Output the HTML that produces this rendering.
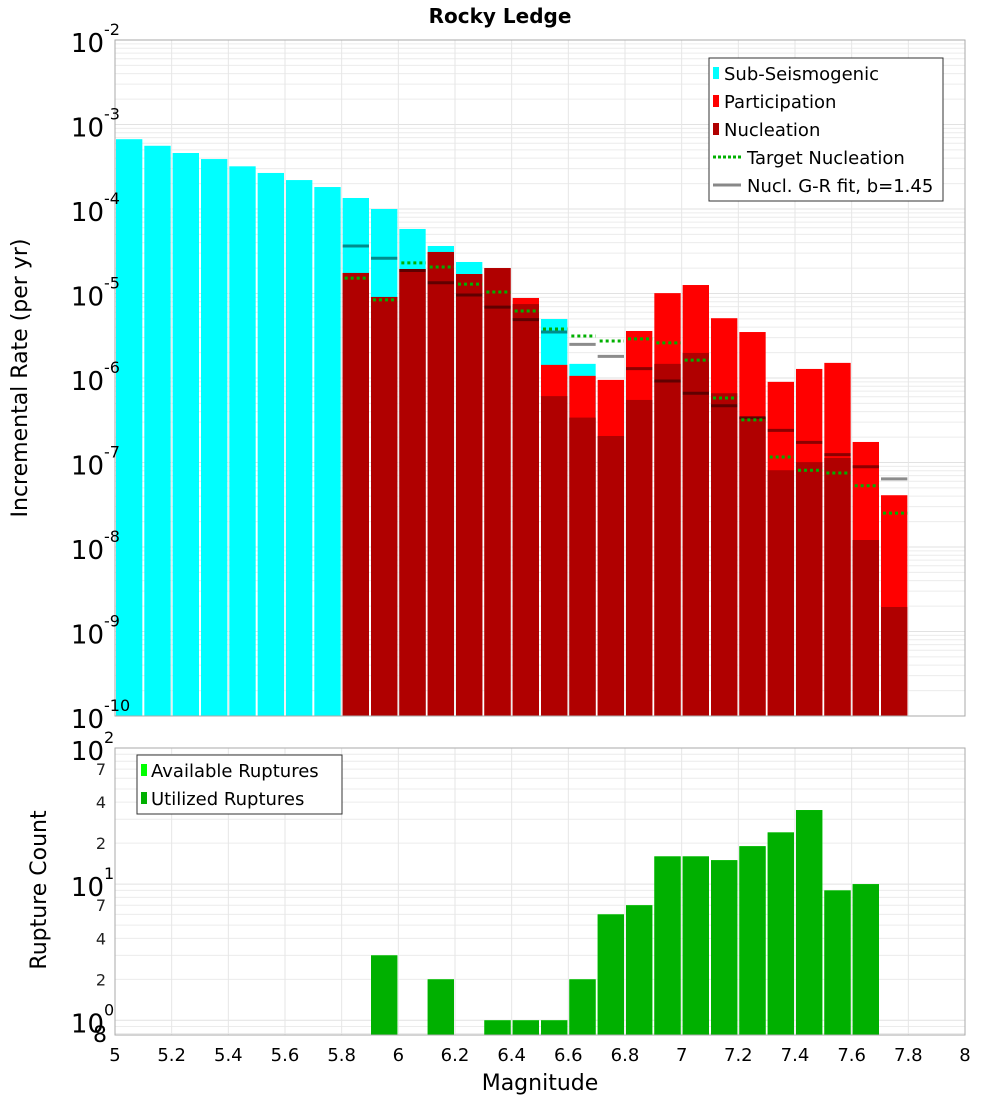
<!DOCTYPE html>
<html><head><meta charset="utf-8"><style>
body{margin:0;background:#fff;font-family:"Liberation Sans","DejaVu Sans",sans-serif}
svg text{font-family:"DejaVu Sans","Liberation Sans",sans-serif}
</style></head><body>
<svg id="c" width="1000" height="1100" xmlns="http://www.w3.org/2000/svg"></svg>
<script>
const mags = [5.05,5.15,5.25,5.35,5.45,5.55,5.65,5.75,5.85,5.95,6.05,6.15,6.25,6.35,6.45,6.55,6.65,6.75,6.85,6.95,7.05,7.15,7.25,7.35,7.45,7.55,7.65,7.75];
const subSeis = [6.7e-4,5.6e-4,4.6e-4,3.9e-4,3.2e-4,2.67e-4,2.2e-4,1.82e-4,1.35e-4,1.0e-4,5.8e-5,3.65e-5,2.36e-5,0,0,4.99e-6,1.47e-6,0,0,0,0,0,0,0,0,0,0,0];
const partic = [0,0,0,0,0,0,0,0,1.75e-5,9.1e-6,1.95e-5,3.1e-5,1.7e-5,2.0e-5,8.85e-6,1.43e-6,1.06e-6,9.5e-7,3.6e-6,1.01e-5,1.26e-5,5.1e-6,3.5e-6,9.0e-7,1.28e-6,1.51e-6,1.75e-7,4.1e-8];
const nucl = [0,0,0,0,0,0,0,0,1.75e-5,9.1e-6,1.95e-5,3.1e-5,1.7e-5,2.0e-5,7.5e-6,6.1e-7,3.4e-7,2.06e-7,5.5e-7,1.47e-6,1.98e-6,6.6e-7,3.45e-7,8.1e-8,1.01e-7,1.13e-7,1.21e-8,1.95e-9];
const targetNucl = [null,null,null,null,null,null,null,null,1.52e-5,8.4e-6,2.3e-5,2.06e-5,1.29e-5,1.04e-5,6.2e-6,3.8e-6,3.14e-6,2.74e-6,2.9e-6,2.6e-6,1.63e-6,5.8e-7,3.2e-7,1.16e-7,8.1e-8,7.5e-8,5.3e-8,2.52e-8];
const grFit = [null,null,null,null,null,null,null,null,3.65e-5,2.61e-5,1.87e-5,1.34e-5,9.6e-6,6.9e-6,4.9e-6,3.5e-6,2.5e-6,1.8e-6,1.29e-6,9.2e-7,6.6e-7,4.7e-7,3.4e-7,2.4e-7,1.73e-7,1.24e-7,8.9e-8,6.4e-8];
const availRup = [0,0,0,0,0,0,0,0,0,3,0,2,0,1,1,1,2,6,7,16,16,15,19,24,35,9,10,0];
const usedRup = [0,0,0,0,0,0,0,0,0,3,0,2,0,1,1,1,2,6,7,16,16,15,19,24,35,9,10,0];
const xTicks = [5,5.2,5.4,5.6,5.8,6,6.2,6.4,6.6,6.8,7,7.2,7.4,7.6,7.8,8];

const svg=document.getElementById('c');const NS='http://www.w3.org/2000/svg';
function mk(tag,at,parent){const e=document.createElementNS(NS,tag);for(const k in at)e.setAttribute(k,at[k]);(parent||svg).appendChild(e);return e;}
const X0=115,X1=965;
const x=m=>X0+(m-5)/3*(X1-X0);
const T0=40,T1=716;const yT=v=>T0+(-2-Math.log10(v))/8*(T1-T0);
const B0=748,B1=1035;const BMIN=0.78;const yB=v=>B0+(2-Math.log10(v))/(2-Math.log10(BMIN))*(B1-B0);

function grid(top,bot,yf,decs){
  const g=mk('g',{});
  decs.forEach(d=>{for(let k=1;k<10;k++){const v=k*Math.pow(10,d);const yy=yf(v);if(yy<top-0.5||yy>bot+0.5)continue;
    mk('line',{x1:X0,x2:X1,y1:yy,y2:yy,stroke:k==1?'#e2e2e2':'#ececec','stroke-width':1},g);}});
  for(let m=5;m<=8.001;m+=0.2){mk('line',{x1:x(m),x2:x(m),y1:top,y2:bot,stroke:'#e6e6e6','stroke-width':1},g);}
}
// title
let t=mk('text',{x:500,y:23,'text-anchor':'middle','font-size':20,'font-weight':'bold'});t.textContent='Rocky Ledge';


// top panel
grid(T0,T1,yT,[-10,-9,-8,-7,-6,-5,-4,-3,-2]);
const bars=mk('g',{});
mags.forEach((m,i)=>{
  const xl=x(m-0.05)+1,w=x(m+0.05)-x(m-0.05)-2;
  [[subSeis[i],'#00ffff','sub-seismogenic-bar'],[partic[i],'#ff0000','participation-bar'],[nucl[i],'#b00000','nucleation-bar']].forEach(([v,c,n])=>{
    if(!v)return;const yy=yT(v);const r=mk('rect',{x:xl,y:yy,width:w,height:T1-yy,fill:c},bars);
    });
});
mags.forEach((m,i)=>{
  const xl=x(m-0.05)+1,xr=x(m+0.05)-1;
  if(grFit[i]){const l=mk('line',{x1:xl,x2:xr,y1:yT(grFit[i]),y2:yT(grFit[i]),stroke:'rgba(0,0,0,0.45)','stroke-width':3},bars);
    }
  if(targetNucl[i]){const l=mk('line',{x1:xl+2,x2:xr,y1:yT(targetNucl[i]),y2:yT(targetNucl[i]),stroke:'#00b000','stroke-width':3,'stroke-dasharray':'3 3'},bars);
    }
});
mk('rect',{x:X0,y:T0,width:X1-X0,height:T1-T0,fill:'none',stroke:'#aaa','stroke-width':1});
// top y labels
for(let d=-10;d<=-2;d++){const yy=yT(Math.pow(10,d));
  const tx=mk('text',{x:104,y:yy+12,'text-anchor':'end','font-size':26});tx.textContent='10';
  
  const sp=mk('text',{x:104,y:yy-5,'font-size':16});sp.textContent=String(d);
  }
t=mk('text',{transform:'translate(27,378) rotate(-90)','text-anchor':'middle','font-size':22});t.textContent='Incremental Rate (per yr)';

// legend top
const lg=mk('g',{});
mk('rect',{x:709,y:58,width:234,height:143,fill:'#fff',stroke:'#333','stroke-width':1},lg);
[['Sub-Seismogenic','#00ffff','box'],['Participation','#ff0000','box'],['Nucleation','#b00000','box'],['Target Nucleation','#00b000','dot'],['Nucl. G-R fit, b=1.45','#888','line']].forEach((e,i)=>{
  const yy=73+i*28;const g=mk('g',{},lg);
  if(e[2]=='box'){mk('rect',{x:713,y:yy-6,width:6,height:12,fill:e[1]},g);mk('text',{x:724,y:yy+7,'font-size':18},g).textContent=e[0];}
  else{mk('line',{x1:713,x2:741,y1:yy,y2:yy,stroke:e[1],'stroke-width':3,'stroke-dasharray':e[2]=='dot'?'3 2':''},g);mk('text',{x:747,y:yy+7,'font-size':18},g).textContent=e[0];}
});

// bottom panel
grid(B0,B1,yB,[-1,0,1]);
const bb=mk('g',{});
mags.forEach((m,i)=>{const xl=x(m-0.05)+1,w=x(m+0.05)-x(m-0.05)-2;
  [[availRup[i],'#00ff00','available-ruptures-bar'],[usedRup[i],'#00b000','utilized-ruptures-bar']].forEach(([v,c,n])=>{
    if(!v)return;const yy=yB(v);const r=mk('rect',{x:xl,y:yy,width:w,height:B1-yy,fill:c},bb);
    });});
mk('rect',{x:X0,y:B0,width:X1-X0,height:B1-B0,fill:'none',stroke:'#aaa','stroke-width':1});
[0,1,2].forEach(d=>{const yy=yB(Math.pow(10,d));
  const tx=mk('text',{x:104,y:yy+12,'text-anchor':'end','font-size':26});tx.textContent='10';
  
  const sp=mk('text',{x:104,y:yy-5,'font-size':16});sp.textContent=String(d);
  });
[[70,'7'],[40,'4'],[20,'2'],[7,'7'],[4,'4'],[2,'2']].forEach(([v,s])=>{const tx=mk('text',{x:106,y:yB(v)+6,'text-anchor':'end','font-size':16,fill:'#222'});tx.textContent=s;
  });
t=mk('text',{x:107,y:1042,'text-anchor':'end','font-size':22});t.textContent='8';

t=mk('text',{transform:'translate(46,890) rotate(-90)','text-anchor':'middle','font-size':22});t.textContent='Rupture Count';

const lg2=mk('g',{});
mk('rect',{x:137,y:755,width:205,height:59,fill:'#fff',stroke:'#333','stroke-width':1},lg2);
[['Available Ruptures','#00ff00'],['Utilized Ruptures','#00b000']].forEach((e,i)=>{const yy=770+i*28;
  const g=mk('g',{},lg2);
  mk('rect',{x:141,y:yy-6,width:6,height:12,fill:e[1]},g);mk('text',{x:151,y:yy+7,'font-size':18},g).textContent=e[0];});
// x ticks
xTicks.forEach(m=>{const tx=mk('text',{x:x(m),y:1061,'text-anchor':'middle','font-size':18});tx.textContent=String(m);
  });
t=mk('text',{x:540,y:1090,'text-anchor':'middle','font-size':22});t.textContent='Magnitude';

</script>
</body></html>
